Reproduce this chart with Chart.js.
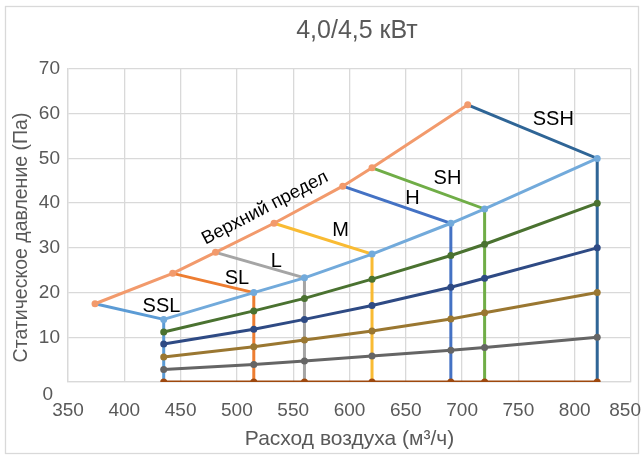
<!DOCTYPE html>
<html>
<head>
<meta charset="utf-8">
<script src="https://cdn.jsdelivr.net/npm/chart.js@4/dist/chart.umd.min.js"></script>
<style>
  html, body { margin: 0; padding: 0; background: #fff; }
</style>
</head>
<body>
<canvas id="chart" width="644" height="459"></canvas>
<script>
const titleText = '4,0/4,5 кВт';
const xTitle = 'Расход воздуха (м³/ч)';
const yTitle = 'Статическое давление (Па)';
const upperName = 'Верхний предел';

// speed steps
const speedNames = ['SSL', 'SL', 'L', 'M', 'H', 'SH', 'SSH'];
const speedColors = ['#5B9BD5', '#ED7D31', '#A5A5A5', '#F9BB33', '#4472C4', '#70AD47', '#2F6596'];

// upper limit line
const upperFlow = [374, 443, 481, 533, 594, 620, 705];
const upperPress = [17.5, 24.3, 29, 35.5, 43.8, 47.9, 62];

// system curves, all at the same flows
const curveFlow = [435, 515, 560, 620, 690, 720, 820];
const curve1 = [14, 20, 23.3, 28.6, 35.5, 38.7, 50];
const curve2 = [11.2, 15.9, 18.7, 23, 28.3, 30.8, 40];
const curve3 = [8.5, 11.8, 14, 17.1, 21.2, 23.2, 30];
const curve4 = [5.6, 7.9, 9.4, 11.4, 14.1, 15.5, 20];
const curve5 = [2.8, 3.9, 4.7, 5.8, 7.1, 7.7, 10];
const curve6 = [0, 0, 0, 0, 0, 0, 0];
const curveColors = ['#72AADB', '#4A7230', '#2E4A84', '#9A7731', '#656565', '#9E480E'];

// where the speed names sit (data units)
const speedLabelX = [433, 500, 535, 592, 656, 687, 781];
const speedLabelY = [17, 23.2, 26.9, 33.9, 41.1, 45.6, 58.7];

const curves = [curve1, curve2, curve3, curve4, curve5, curve6];
const datasets = [];

curves.forEach(function (c, i) {
  datasets.push({
    data: curveFlow.map(function (f, j) { return { x: f, y: c[j] }; }),
    borderColor: curveColors[i],
    backgroundColor: curveColors[i],
    pointBackgroundColor: curveColors[i],
    showLine: true,
    borderWidth: 3,
    pointRadius: 3.5,
    pointBorderWidth: 0,
    order: 1
  });
});

datasets.push({
  data: upperFlow.map(function (f, j) { return { x: f, y: upperPress[j] }; }),
  borderColor: '#F29A6C',
  pointBackgroundColor: '#F29A6C',
  showLine: true,
  borderWidth: 3,
  pointRadius: 3.5,
  pointBorderWidth: 0,
  order: 1
});

speedNames.forEach(function (name, i) {
  datasets.push({
    data: [
      { x: upperFlow[i], y: upperPress[i] },
      { x: curveFlow[i], y: curve1[i] },
      { x: curveFlow[i], y: curve6[i] }
    ],
    borderColor: speedColors[i],
    showLine: true,
    borderWidth: 3,
    pointRadius: 0,
    order: 2
  });
});

const textFont = '"Liberation Sans", Arial, sans-serif';

const extras = {
  id: 'extras',
  afterDatasetsDraw(chart) {
    const ctx = chart.ctx;
    const xs = chart.scales.x;
    const ys = chart.scales.y;
    ctx.save();
    ctx.fillStyle = '#000';
    ctx.font = '20px ' + textFont;
    ctx.textAlign = 'center';
    ctx.textBaseline = 'middle';
    for (let i = 0; i < speedNames.length; i++) {
      ctx.fillText(speedNames[i], xs.getPixelForValue(speedLabelX[i]), ys.getPixelForValue(speedLabelY[i]));
    }
    // label along the upper limit
    const x1 = xs.getPixelForValue(upperFlow[2]), y1 = ys.getPixelForValue(upperPress[2]);
    const x2 = xs.getPixelForValue(upperFlow[4]), y2 = ys.getPixelForValue(upperPress[4]);
    const ang = Math.atan2(y2 - y1, x2 - x1);
    ctx.translate(xs.getPixelForValue(525), ys.getPixelForValue(38.9));
    ctx.rotate(ang);
    ctx.font = '18.5px ' + textFont;
    ctx.fillText(upperName, 0, 0);
    ctx.restore();
  },
  afterDraw(chart) {
    const ctx = chart.ctx;
    const a = chart.chartArea;
    const xs = chart.scales.x;
    const ys = chart.scales.y;
    ctx.save();
    ctx.strokeStyle = '#D9D9D9';
    ctx.lineWidth = 1.3;
    ctx.strokeRect(5.5, 6.5, 633, 447);
    ctx.fillStyle = '#595959';
    ctx.font = '25px ' + textFont;
    ctx.textAlign = 'center';
    ctx.textBaseline = 'middle';
    ctx.fillText(titleText, 357, 31);
    ctx.font = '19px ' + textFont;
    // last x label is pushed inside the frame, as in the original
    ctx.textAlign = 'right';
    ctx.fillText(String(xs.max), 641, 411);
    // zero label sits low, as in the original
    ctx.fillText('0', 53, ys.getPixelForValue(0) + 13);
    // y axis title
    ctx.translate(22, (a.top + a.bottom) / 2 + 12);
    ctx.rotate(-Math.PI / 2);
    ctx.textAlign = 'center';
    ctx.font = '19.5px ' + textFont;
    ctx.fillText(yTitle, 0, 0);
    ctx.restore();
  }
};

new Chart(document.getElementById('chart'), {
  type: 'scatter',
  data: { datasets: datasets },
  options: {
    responsive: false,
    animation: false,
    layout: { padding: { top: 69, right: 0, left: 0, bottom: 0 } },
    plugins: { legend: { display: false }, tooltip: { enabled: false } },
    scales: {
      x: {
        min: 350, max: 850,
        ticks: {
          stepSize: 50, color: '#595959', padding: 17, font: { size: 19, family: textFont },
          callback: function (v) { return v === 850 ? '' : v; }
        },
        grid: { color: '#D9D9D9', lineWidth: 1.3, drawTicks: false },
        border: { color: '#D9D9D9', width: 1.3 },
        title: { display: true, text: xTitle, color: '#595959', font: { size: 21, family: textFont }, padding: { bottom: 7 } },
        afterFit: function (s) { s.height = 77; s.paddingRight = 13; s.paddingLeft = 0; }
      },
      y: {
        min: 0, max: 70,
        ticks: {
          stepSize: 10, color: '#595959', padding: 8, font: { size: 19, family: textFont },
          callback: function (v) { return v === 0 ? '' : v; }
        },
        grid: { color: '#D9D9D9', lineWidth: 1.3, drawTicks: false },
        border: { color: '#D9D9D9', width: 1.3 },
        afterFit: function (s) { s.width = 68; }
      }
    }
  },
  plugins: [extras]
});
</script>
</body>
</html>
